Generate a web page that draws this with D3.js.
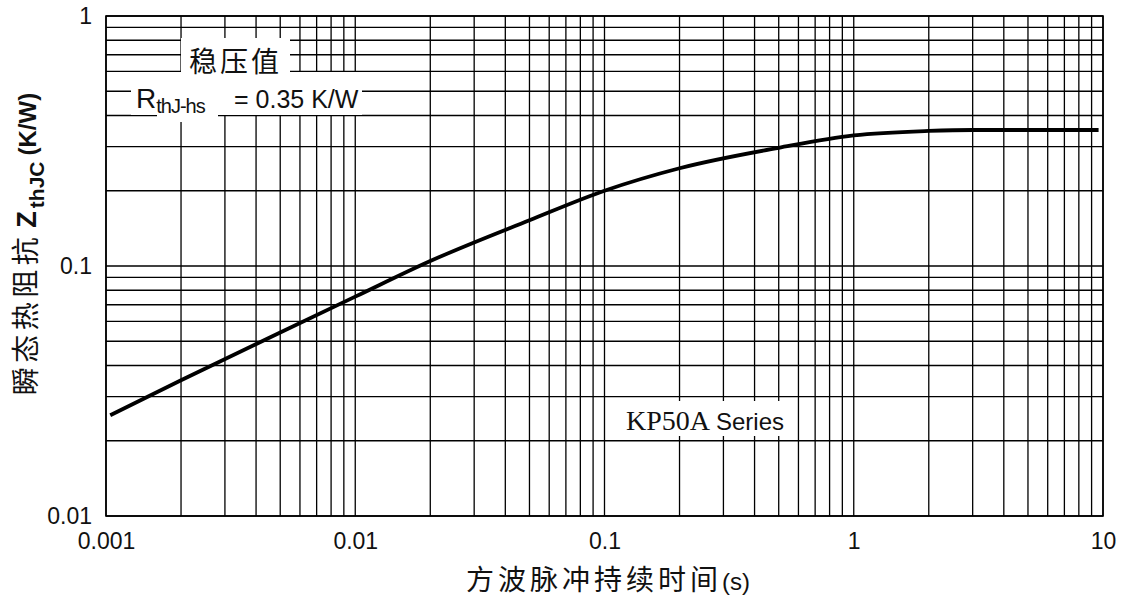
<!DOCTYPE html>
<html>
<head>
<meta charset="utf-8">
<script src="https://cdn.jsdelivr.net/npm/d3@7"></script>
<style>
  html, body { margin: 0; padding: 0; background: #fff; }
  svg { display: block; }
  text { fill: #111; }
</style>
</head>
<body>
<svg id="chart" width="1125" height="601"></svg>
<script>
// ---- data ----
const pulseTime = [0.00104, 0.002, 0.005, 0.01, 0.02, 0.05, 0.1, 0.2, 0.5, 1, 2, 3, 9.6];
const zthJC     = [0.0253, 0.0349, 0.0542, 0.0754, 0.1047, 0.1524, 0.2, 0.246, 0.297, 0.333, 0.347, 0.35, 0.35];
const xTickLabels = ["0.001", "0.01", "0.1", "1", "10"];
const yTickLabels = ["0.01", "0.1", "1"];
const xDomain = [0.001, 10];
const yDomain = [0.01, 1];

const svg = d3.select("#chart");
const L = 106, R = 1103, T = 16, B = 516;

const x = d3.scaleLog().domain(xDomain).range([L, R]);
const y = d3.scaleLog().domain(yDomain).range([B, T]);

const sans = "'Liberation Sans', Arial, sans-serif";
const cjk = "'Noto Sans CJK SC', sans-serif";

// grid
const grid = svg.append("g").attr("stroke", "#000").attr("stroke-width", 1.3);
x.ticks().forEach(v => {
  grid.append("line").attr("x1", x(v)).attr("x2", x(v)).attr("y1", T).attr("y2", B);
});
y.ticks().forEach(v => {
  grid.append("line").attr("x1", L).attr("x2", R).attr("y1", y(v)).attr("y2", y(v));
});
svg.append("rect").attr("x", L).attr("y", T).attr("width", R - L).attr("height", B - T)
  .attr("fill", "none").attr("stroke", "#000").attr("stroke-width", 1.6);

// tick labels via d3 axes (no lines)
const xAxis = d3.axisBottom(x).tickValues(xTickLabels.map(Number)).tickSize(0).tickPadding(0)
  .tickFormat((d, i) => xTickLabels[i]);
const gx = svg.append("g").attr("transform", `translate(0,${B + 17})`).call(xAxis);
gx.select(".domain").remove();
gx.selectAll("text").attr("font-family", sans).attr("font-size", 23).attr("fill", "#111").attr("dy", "0.71em");

const yAxis = d3.axisLeft(y).tickValues(yTickLabels.map(Number)).tickSize(0).tickPadding(0)
  .tickFormat((d, i) => yTickLabels[i]);
const gy = svg.append("g").attr("transform", `translate(${L - 14},0)`).call(yAxis);
gy.select(".domain").remove();
gy.selectAll("text").attr("font-family", sans).attr("font-size", 23).attr("fill", "#111");

// annotation boxes (white backgrounds that interrupt grid)
const boxes = [
  [181, 38, 109, 34],
  [131, 72, 231, 43],
  [157, 112, 61, 10],
  [620, 401, 170, 35]
];
boxes.forEach(b => svg.append("rect").attr("x", b[0]).attr("y", b[1]).attr("width", b[2]).attr("height", b[3]).attr("fill", "#fff"));

// curve
const pts = pulseTime.map((t, i) => [t, zthJC[i]]);
const line = d3.line().x(d => x(d[0])).y(d => y(d[1])).curve(d3.curveMonotoneX);
svg.append("path").datum(pts).attr("d", line).attr("fill", "none")
  .attr("stroke", "#000").attr("stroke-width", 3.8).attr("stroke-linecap", "butt");

// annotations
svg.append("text").attr("x", 189).attr("y", 72).attr("font-family", cjk).attr("font-size", 28)
  .attr("letter-spacing", 3).text("稳压值");

const rt = svg.append("text").attr("x", 136).attr("y", 108).attr("font-family", sans).attr("fill", "#111");
rt.append("tspan").attr("font-size", 28).text("R");
rt.append("tspan").attr("font-size", 20).attr("dy", 5).attr("letter-spacing", -1).text("thJ-hs");
rt.append("tspan").attr("font-size", 25).attr("dy", -5).attr("x", 234).text("= 0.35 K/W");

const kp = svg.append("text").attr("x", 626).attr("y", 430).attr("fill", "#111");
kp.append("tspan").attr("font-family", "'Liberation Serif', 'Times New Roman', serif").attr("font-size", 28).text("KP50A");
kp.append("tspan").attr("font-family", sans).attr("font-size", 24).attr("dx", 6).text("Series");

// x title
const xt = svg.append("text").attr("x", 608).attr("y", 590).attr("text-anchor", "middle");
xt.append("tspan").attr("font-family", cjk).attr("font-size", 28).attr("letter-spacing", 4).text("方波脉冲持续时间");
xt.append("tspan").attr("font-family", sans).attr("font-size", 24).text("(s)");

// y title
const yt = svg.append("text").attr("transform", "translate(36,244) rotate(-90)").attr("text-anchor", "middle");
yt.append("tspan").attr("font-family", cjk).attr("font-size", 28).attr("letter-spacing", 4.5).text("瞬态热阻抗");
yt.append("tspan").attr("font-family", sans).attr("font-weight", "bold").attr("font-size", 27).attr("dx", 5).text("Z");
yt.append("tspan").attr("font-family", sans).attr("font-weight", "bold").attr("font-size", 21).attr("dy", 8).attr("dx", 3).text("thJC");
yt.append("tspan").attr("font-family", sans).attr("font-weight", "bold").attr("font-size", 24).attr("dy", -8).attr("dx", 6).text("(K/W)");
</script>
</body>
</html>
